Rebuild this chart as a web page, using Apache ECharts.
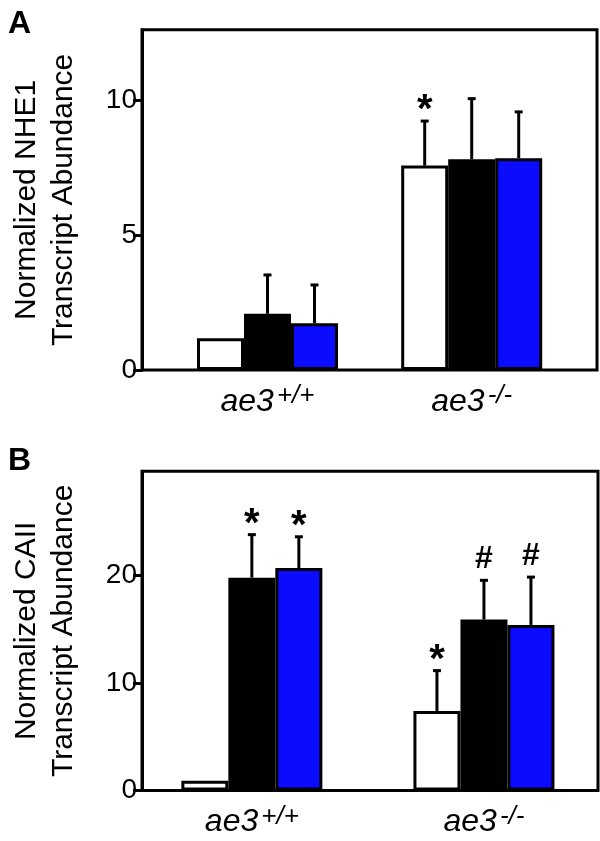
<!DOCTYPE html>
<html>
<head>
<meta charset="utf-8">
<script src="https://cdn.jsdelivr.net/npm/echarts@6/dist/echarts.min.js"></script>
<style>
  html, body { margin: 0; padding: 0; background: #fff; }
  #chart { width: 600px; height: 841px; }
</style>
</head>
<body>
<div id="chart"></div>
<script>
// groups on the x axis
var groups = ['ae3+/+', 'ae3-/-'];

// panel A: NHE1
var nheWhite = [1.18, 7.57];
var nheBlack = [2.08, 7.81];
var nheBlue = [1.73, 7.84];
var nheWhiteErr = [0, 1.65];
var nheBlackErr = [1.44, 2.24];
var nheBlueErr = [1.42, 1.72];
var nheWhiteMark = ['', '*'];
var nheBlackMark = ['', ''];
var nheBlueMark = ['', ''];
var nheTicks = [0, 5, 10];

// panel B: CAII
var caWhite = [0.9, 7.4];
var caBlack = [19.8, 15.9];
var caBlue = [20.7, 15.4];
var caWhiteErr = [0, 3.75];
var caBlackErr = [4.0, 3.65];
var caBlueErr = [2.9, 4.45];
var caWhiteMark = ['', '*'];
var caBlackMark = ['*', '#'];
var caBlueMark = ['*', '#'];
var caTicks = [0, 10, 20];

var FONT = 'Liberation Sans, Arial, Helvetica, sans-serif';
var barW = 47;
var blue = '#0b0bff';

var myChart = echarts.init(document.getElementById('chart'));

function frameY(grid, max, interval, ticks, name) {
    return {
        gridIndex: grid, type: 'value', min: 0, max: max, interval: interval,
        name: name, nameLocation: 'middle', nameRotate: 90, nameGap: 60,
        nameTextStyle: { fontFamily: FONT, fontSize: 30, lineHeight: 37, color: '#000' },
        axisLine: { show: true, lineStyle: { color: '#000', width: 3 } },
        axisTick: { show: true, length: 9, customValues: ticks, lineStyle: { color: '#000', width: 3 } },
        axisLabel: { fontFamily: FONT, fontSize: 28, color: '#000', margin: 5, customValues: ticks },
        splitLine: { show: false }
    };
}

function hiddenY(grid, max) {
    return { gridIndex: grid, type: 'value', min: 0, max: max, show: false, splitLine: { show: false } };
}

function catX(grid) {
    return {
        gridIndex: grid, type: 'category', data: groups,
        axisLine: { show: false }, axisTick: { show: false },
        axisLabel: {
            margin: 13,
            formatter: function (v) { return '{i|ae3}{s|' + v.slice(3) + '}'; },
            rich: {
                i: { fontFamily: FONT, fontStyle: 'italic', fontSize: 32, color: '#000', lineHeight: 38 },
                s: { fontFamily: FONT, fontStyle: 'italic', fontSize: 26, color: '#000', verticalAlign: 'top', lineHeight: 24, padding: [0, 0, 0, 3] }
            }
        }
    };
}

function bars(name, xi, vals, color) {
    return {
        name: name, type: 'bar', xAxisIndex: xi, yAxisIndex: xi,
        barWidth: barW, barGap: '0%', data: vals,
        itemStyle: { color: color, borderColor: '#000', borderWidth: 3 }
    };
}

function errors(xi, vals, errs, marks, offset) {
    return {
        type: 'custom', xAxisIndex: xi, yAxisIndex: xi, clip: false, z: 5,
        data: vals.map(function (v, i) { return [i, v + errs[i]]; }),
        renderItem: function (params, api) {
            var i = params.dataIndex;
            var base = api.coord([i, vals[i]]);
            var top = api.coord([i, vals[i] + errs[i]]);
            var x = base[0] + offset;
            var kids = [];
            if (errs[i] > 0) {
                kids.push({ type: 'line', shape: { x1: x, y1: base[1], x2: x, y2: top[1] }, style: { stroke: '#000', lineWidth: 3 } });
                kids.push({ type: 'line', shape: { x1: x - 4, y1: top[1], x2: x + 4, y2: top[1] }, style: { stroke: '#000', lineWidth: 3 } });
            }
            if (marks[i]) {
                var star = marks[i] === '*';
                kids.push({
                    type: 'text', x: x, y: top[1] - (star ? 10 : 21),
                    style: {
                        text: marks[i], fill: '#000', fontFamily: FONT, fontWeight: 'bold',
                        fontSize: star ? 40 : 32, align: 'center', verticalAlign: 'middle'
                    }
                });
            }
            return { type: 'group', children: kids };
        }
    };
}

var option = {
    animation: false,
    backgroundColor: '#fff',
    title: [
        { text: 'A', left: 3, top: 3, textStyle: { fontFamily: FONT, fontSize: 32, fontWeight: 'bold', color: '#000' } },
        { text: 'B', left: 3, top: 440, textStyle: { fontFamily: FONT, fontSize: 32, fontWeight: 'bold', color: '#000' } }
    ],
    grid: [
        { left: 131, width: 466, top: 29.8, height: 340.2, show: true, borderColor: '#000', borderWidth: 3 },
        { left: 165.4, width: 408.4, top: 29.8, height: 340.2 },
        { left: 131, width: 467, top: 471.2, height: 319.3, show: true, borderColor: '#000', borderWidth: 3 },
        { left: 135.8, width: 490, top: 471.2, height: 319.3 }
    ],
    xAxis: [
        { gridIndex: 0, type: 'value', show: false, min: 0, max: 1 },
        catX(1),
        { gridIndex: 2, type: 'value', show: false, min: 0, max: 1 },
        catX(3)
    ],
    yAxis: [
        frameY(0, 12.6, 5, nheTicks, 'Normalized NHE1\nTranscript Abundance'),
        hiddenY(1, 12.6),
        frameY(2, 29.7, 10, caTicks, 'Normalized CAII\nTranscript Abundance'),
        hiddenY(3, 29.7)
    ],
    series: [
        bars('white', 1, nheWhite, '#fff'),
        bars('black', 1, nheBlack, '#000'),
        bars('blue', 1, nheBlue, blue),
        errors(1, nheWhite, nheWhiteErr, nheWhiteMark, -barW),
        errors(1, nheBlack, nheBlackErr, nheBlackMark, 0),
        errors(1, nheBlue, nheBlueErr, nheBlueMark, barW),
        bars('white', 3, caWhite, '#fff'),
        bars('black', 3, caBlack, '#000'),
        bars('blue', 3, caBlue, blue),
        errors(3, caWhite, caWhiteErr, caWhiteMark, -barW),
        errors(3, caBlack, caBlackErr, caBlackMark, 0),
        errors(3, caBlue, caBlueErr, caBlueMark, barW)
    ]
};

myChart.setOption(option);
</script>
</body>
</html>
